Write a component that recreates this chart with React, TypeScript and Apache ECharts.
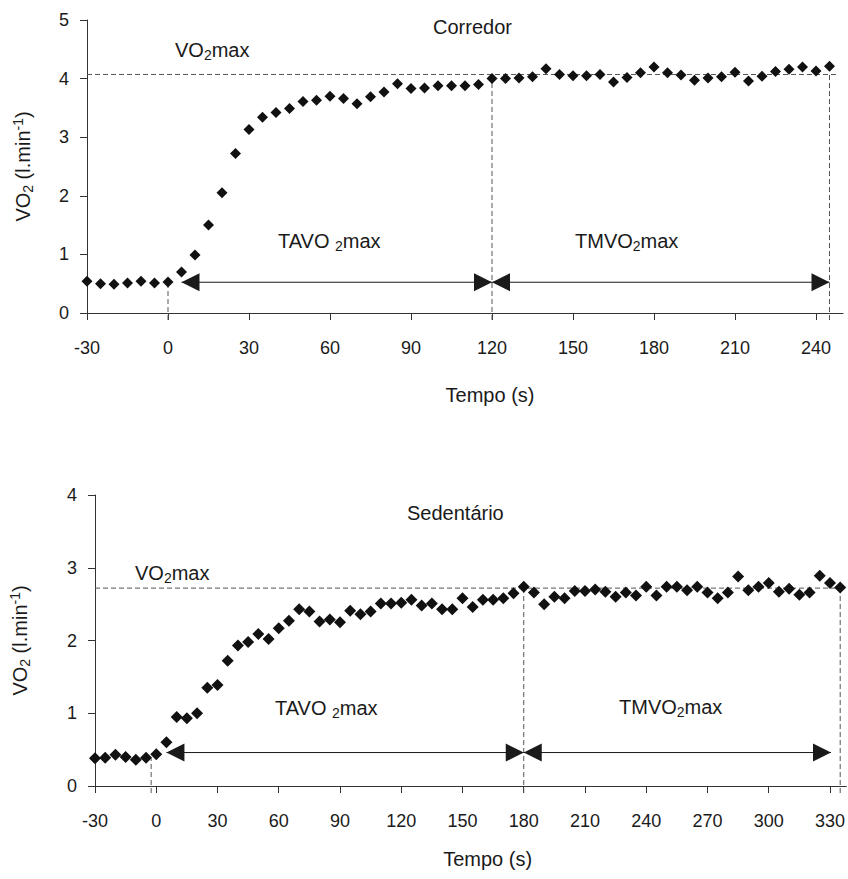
import React, { useEffect, useRef } from 'react';
import * as echarts from 'echarts';

// ---------- data ----------
const timeTop = [-30, -25, -20, -15, -10, -5, 0, 5, 10, 15, 20, 25, 30, 35, 40, 45, 50, 55, 60, 65, 70, 75, 80, 85, 90, 95, 100, 105, 110, 115, 120, 125, 130, 135, 140, 145, 150, 155, 160, 165, 170, 175, 180, 185, 190, 195, 200, 205, 210, 215, 220, 225, 230, 235, 240, 245];
const vo2Top = [0.54, 0.5, 0.49, 0.51, 0.54, 0.51, 0.53, 0.7, 0.99, 1.5, 2.05, 2.72, 3.13, 3.34, 3.42, 3.49, 3.61, 3.63, 3.7, 3.66, 3.57, 3.69, 3.77, 3.91, 3.83, 3.84, 3.88, 3.88, 3.88, 3.9, 4.0, 4.0, 4.01, 4.03, 4.17, 4.07, 4.05, 4.05, 4.07, 3.94, 4.02, 4.1, 4.2, 4.1, 4.06, 3.97, 4.01, 4.03, 4.11, 3.96, 4.04, 4.12, 4.16, 4.2, 4.13, 4.21];

const timeBottom = [-30, -25, -20, -15, -10, -5, 0, 5, 10, 15, 20, 25, 30, 35, 40, 45, 50, 55, 60, 65, 70, 75, 80, 85, 90, 95, 100, 105, 110, 115, 120, 125, 130, 135, 140, 145, 150, 155, 160, 165, 170, 175, 180, 185, 190, 195, 200, 205, 210, 215, 220, 225, 230, 235, 240, 245, 250, 255, 260, 265, 270, 275, 280, 285, 290, 295, 300, 305, 310, 315, 320, 325, 330, 335];
const vo2Bottom = [0.38, 0.39, 0.43, 0.4, 0.36, 0.39, 0.435, 0.6, 0.95, 0.93, 1.0, 1.35, 1.39, 1.72, 1.93, 1.98, 2.09, 2.02, 2.17, 2.27, 2.43, 2.4, 2.26, 2.29, 2.25, 2.41, 2.36, 2.4, 2.51, 2.51, 2.52, 2.56, 2.48, 2.51, 2.43, 2.43, 2.58, 2.46, 2.56, 2.56, 2.58, 2.65, 2.74, 2.66, 2.5, 2.6, 2.58, 2.68, 2.68, 2.7, 2.67, 2.6, 2.66, 2.62, 2.74, 2.62, 2.74, 2.74, 2.69, 2.74, 2.66, 2.58, 2.66, 2.88, 2.69, 2.74, 2.79, 2.67, 2.71, 2.63, 2.66, 2.89, 2.79, 2.73];

const xTicksTop = [-30, 0, 30, 60, 90, 120, 150, 180, 210, 240];
const xTicksBottom = [-30, 0, 30, 60, 90, 120, 150, 180, 210, 240, 270, 300, 330];

const vo2maxTop = 4.07;
const vo2maxBottom = 2.72;

// guides: [x1, y1, x2, y2, kind]  kind 0 = dashed line, 1 = double-headed arrow
const guidesTop = [
  [-30, vo2maxTop, 247.5, vo2maxTop, 0],
  [0, 0, 0, 0.45, 0],
  [120, 0, 120, 4.0, 0],
  [245, 0, 245, vo2maxTop, 0],
  [5, 0.525, 120, 0.525, 1],
  [120, 0.525, 245, 0.525, 1],
];
const guidesBottom = [
  [-30, vo2maxBottom, 336, vo2maxBottom, 0],
  [-2.5, 0, -2.5, 0.38, 0],
  [180, 0, 180, vo2maxBottom, 0],
  [335, 0, 335, vo2maxBottom, 0],
  [5, 0.46, 180, 0.46, 1],
  [180, 0.46, 330.5, 0.46, 1],
];

const FONT = "'Liberation Sans', Arial, Helvetica, sans-serif";
const INK = '#1a1a1a';
const MARK = '#111111';

function renderGuide(params: any, api: any) {
  const x1 = api.value(0), y1 = api.value(1), x2 = api.value(2), y2 = api.value(3);
  const kind = api.value(4);
  const a = api.coord([x1, y1]);
  const b = api.coord([x2, y2]);
  if (kind === 0) {
    const vertical = Math.abs(a[0] - b[0]) < 0.5;
    const ya = vertical && y1 === 0 ? a[1] + 7 : a[1];
    return {
      type: 'line',
      shape: { x1: a[0], y1: ya, x2: b[0], y2: b[1] },
      style: { stroke: '#555', lineWidth: 1, lineDash: [5, 3] },
    };
  }
  const L = 18, H = 9;
  return {
    type: 'group',
    children: [
      { type: 'line', shape: { x1: a[0], y1: a[1], x2: b[0], y2: b[1] }, style: { stroke: INK, lineWidth: 1 } },
      { type: 'polygon', shape: { points: [[a[0], a[1]], [a[0] + L, a[1] - H], [a[0] + L, a[1] + H]] }, style: { fill: INK } },
      { type: 'polygon', shape: { points: [[b[0], b[1]], [b[0] - L, b[1] - H], [b[0] - L, b[1] + H]] }, style: { fill: INK } },
    ],
  };
}

const richG = {
  a: { fontSize: 20, fontFamily: FONT, fill: INK, lineHeight: 24, verticalAlign: 'middle' },
  b: { fontSize: 14, fontFamily: FONT, fill: INK, lineHeight: 14, verticalAlign: 'bottom' },
};

function label(x: number, y: number, text: string) {
  return {
    type: 'text',
    x,
    y,
    style: { text, rich: richG, fontSize: 20, fontFamily: FONT, fill: INK, verticalAlign: 'middle', align: 'left' },
  };
}

const yNameRich = {
  a: { fontSize: 20, fontFamily: FONT, color: INK, lineHeight: 24, verticalAlign: 'middle' },
  b: { fontSize: 14, fontFamily: FONT, color: INK, lineHeight: 14, verticalAlign: 'bottom' },
  c: { fontSize: 14, fontFamily: FONT, color: INK, lineHeight: 14, verticalAlign: 'top' },
};
const yName = '{a|VO}{b|2}{a| (l.min}{c|-1}{a|)}';

function xAxisCfg(gridIndex: number, max: number, ticks: number[], nameGap: number, padLeft: number) {
  return {
    type: 'value',
    gridIndex,
    min: -30,
    max,
    axisLine: { show: true, onZero: false, lineStyle: { color: '#333', width: 1 } },
    axisTick: { show: true, customValues: ticks, length: 7, lineStyle: { color: '#333', width: 1 } },
    axisLabel: { customValues: ticks, margin: 26, fontSize: 18, fontFamily: FONT, color: INK },
    splitLine: { show: false },
    name: 'Tempo (s)',
    nameLocation: 'middle',
    nameGap,
    nameTextStyle: { fontSize: 20, fontFamily: FONT, color: INK, padding: [0, 0, 0, padLeft] },
  };
}

function yAxisCfg(gridIndex: number, max: number, nameGap: number) {
  return {
    type: 'value',
    gridIndex,
    min: 0,
    max,
    interval: 1,
    axisLine: { show: true, onZero: false, lineStyle: { color: '#333', width: 1 } },
    axisTick: { show: true, length: 7, lineStyle: { color: '#333', width: 1 } },
    axisLabel: { margin: 18, fontSize: 18, fontFamily: FONT, color: INK },
    splitLine: { show: false },
    name: yName,
    nameLocation: 'middle',
    nameGap,
    nameRotate: 90,
    nameTextStyle: { rich: yNameRich, fontSize: 20, fontFamily: FONT, color: INK },
  };
}

export default function App() {
  const ref = useRef<HTMLDivElement>(null);
  useEffect(() => {
    document.body.style.margin = '0';
    if (!ref.current) return;
    const chart = echarts.init(ref.current, null, { renderer: 'svg' });
    chart.setOption({
      animation: false,
      backgroundColor: '#ffffff',
      grid: [
        { left: 87, top: 20, width: 756, height: 293, containLabel: false },
        { left: 95, top: 495, width: 752, height: 291, containLabel: false },
      ],
      xAxis: [xAxisCfg(0, 250, xTicksTop, 72, 50), xAxisCfg(1, 338, xTicksBottom, 63, 34)],
      yAxis: [yAxisCfg(0, 5, 52), yAxisCfg(1, 4, 63)],
      series: [
        {
          type: 'custom',
          xAxisIndex: 0,
          yAxisIndex: 0,
          data: guidesTop,
          renderItem: renderGuide,
          encode: { x: [0, 2], y: [1, 3] },
          silent: true,
          z: 1,
        },
        {
          type: 'custom',
          xAxisIndex: 1,
          yAxisIndex: 1,
          data: guidesBottom,
          renderItem: renderGuide,
          encode: { x: [0, 2], y: [1, 3] },
          silent: true,
          z: 1,
        },
        {
          type: 'scatter',
          xAxisIndex: 0,
          yAxisIndex: 0,
          symbol: 'diamond',
          symbolSize: 11,
          itemStyle: { color: MARK, opacity: 1 },
          data: timeTop.map((t, i) => [t, vo2Top[i]]),
          z: 3,
        },
        {
          type: 'scatter',
          xAxisIndex: 1,
          yAxisIndex: 1,
          symbol: 'diamond',
          symbolSize: 12,
          itemStyle: { color: MARK, opacity: 1 },
          data: timeBottom.map((t, i) => [t, vo2Bottom[i]]),
          z: 3,
        },
      ],
      graphic: [
        label(433, 27, 'Corredor'),
        label(175, 50, '{a|VO}{b|2}{a|max}'),
        label(278, 241, '{a|TAVO }{b|2}{a|max}'),
        label(575, 241, '{a|TMVO}{b|2}{a|max}'),
        label(407, 513, 'Sedentário'),
        label(135, 573, '{a|VO}{b|2}{a|max}'),
        label(275, 708, '{a|TAVO }{b|2}{a|max}'),
        label(619, 707, '{a|TMVO}{b|2}{a|max}'),
      ],
    });
    return () => chart.dispose();
  }, []);
  return <div ref={ref} style={{ width: 848, height: 879 }} />;
}
